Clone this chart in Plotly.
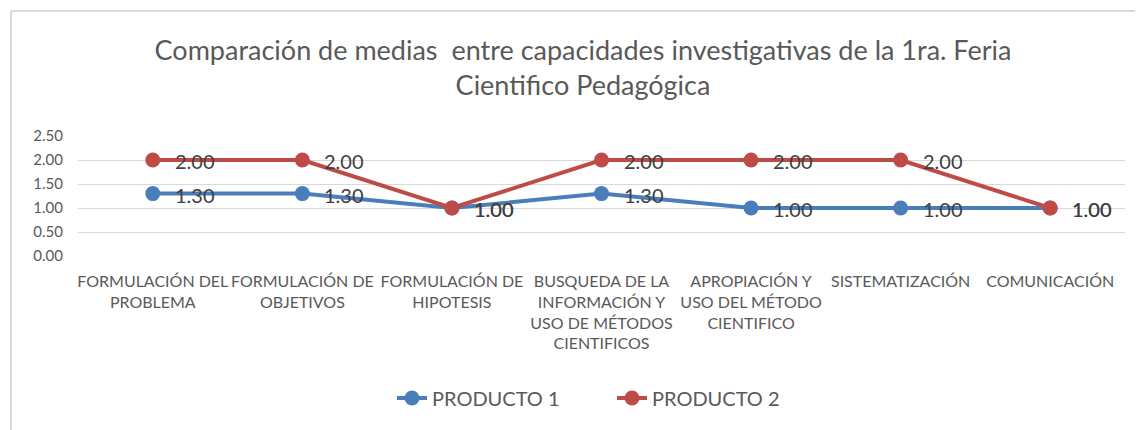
import plotly.graph_objects as go

categories = [
    "FORMULACIÓN DEL<br>PROBLEMA",
    "FORMULACIÓN DE<br>OBJETIVOS",
    "FORMULACIÓN DE<br>HIPOTESIS",
    "BUSQUEDA DE LA<br>INFORMACIÓN Y<br>USO DE MÉTODOS<br>CIENTIFICOS",
    "APROPIACIÓN Y<br>USO DEL MÉTODO<br>CIENTIFICO",
    "SISTEMATIZACIÓN",
    "COMUNICACIÓN",
]
producto1 = [1.30, 1.30, 1.00, 1.30, 1.00, 1.00, 1.00]
producto2 = [2.00, 2.00, 1.00, 2.00, 2.00, 2.00, 1.00]
y_ticks = [0.0, 0.5, 1.0, 1.5, 2.0, 2.5]

FONT = "Lato"
BLUE = "#4a7ebb"
RED = "#be4b48"
GRAY = "#595959"

# page body has an 8px margin: work in target-pixel coords and subtract it
OFF = 8
W, H = 1143 - OFF, 430 - OFF
L, R, T, B = 78 - OFF, 18, 136 - OFF, 430 - 256
pw, ph = W - L - R, H - T - B

def px2x(px):
    return (px - OFF - L) / pw

def py2y(py):
    return 1 + (T - (py - OFF)) / ph

fig = go.Figure()
series = [("PRODUCTO 1", producto1, BLUE), ("PRODUCTO 2", producto2, RED)]
for name, vals, col in series:
    fig.add_trace(go.Scatter(
        x=list(range(len(categories))), y=vals, name=name,
        mode="lines+markers",
        line=dict(color=col, width=4),
        marker=dict(color=col, size=15),
        cliponaxis=False,
    ))

annotations = []
for name, vals, col in series:
    for i, v in enumerate(vals):
        annotations.append(dict(
            x=i, y=v, xref="x", yref="y", text=f"{v:.2f}", showarrow=False,
            xanchor="left", yanchor="middle", xshift=20, yshift=-1,
            font=dict(family=FONT, size=20, color="#404040"),
        ))

fig.update_layout(
    width=W, height=H,
    margin=dict(l=L, r=R, t=T, b=B),
    paper_bgcolor="white", plot_bgcolor="white",
    font=dict(family=FONT, color=GRAY),
    title=dict(
        text="Comparación de medias  entre capacidades investigativas de la 1ra. Feria<br>Cientifico Pedagógica",
        x=(583 - OFF) / W, xanchor="center",
        y=1 - 52 / H, yanchor="middle",
        font=dict(family=FONT, size=27, color=GRAY),
    ),
    showlegend=True,
    legend=dict(
        orientation="h", x=px2x(612), xanchor="center",
        y=py2y(398), yanchor="middle",
        font=dict(family=FONT, size=20, color=GRAY),
        entrywidth=175,
    ),
    annotations=annotations,
    xaxis=dict(
        range=[-0.5, len(categories) - 0.5],
        tickmode="array", tickvals=list(range(len(categories))), ticktext=categories,
        showgrid=False, zeroline=False, showline=False,
        tickfont=dict(family=FONT, size=16, color=GRAY),
        ticks="", ticklabelstandoff=14,
    ),
    yaxis=dict(
        range=[0, 2.5], tickmode="array", tickvals=y_ticks,
        ticktext=[f"{v:.2f}" for v in y_ticks],
        showgrid=True, gridcolor="#d9d9d9", gridwidth=1,
        zeroline=False, showline=False,
        tickfont=dict(family=FONT, size=15, color=GRAY),
        ticks="", ticklabelstandoff=14,
    ),
)

# outer chart border (top and left visible)
bx = px2x(11)
by_top = py2y(11)
by_bot = py2y(440)
fig.add_shape(type="line", xref="paper", yref="paper", x0=bx, x1=px2x(1150), y0=by_top, y1=by_top,
              line=dict(color="#d9d9d9", width=2))
fig.add_shape(type="line", xref="paper", yref="paper", x0=bx, x1=bx, y0=by_top, y1=by_bot,
              line=dict(color="#d9d9d9", width=2))

fig.write_html("out.html")
